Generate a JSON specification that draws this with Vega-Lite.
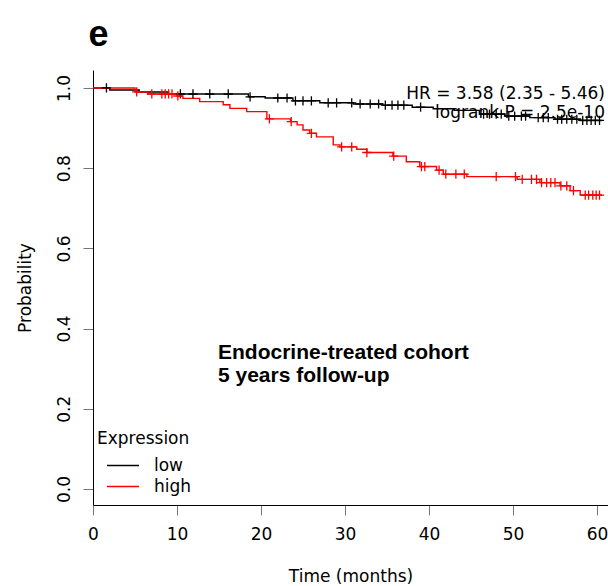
{
  "$schema": "https://vega.github.io/schema/vega-lite/v6.json",
  "autosize": {"type": "none"},
  "width": 515,
  "height": 435,
  "padding": {"left": 93, "top": 70, "right": 0, "bottom": 81},
  "background": "white",
  "config": {"view": {"stroke": null}, "font": "DejaVu Sans"},
  "datasets": {
    "curve": [
      {"group": "low", "t": 0, "p": 1.0},
      {"group": "low", "t": 2.0, "p": 0.995},
      {"group": "low", "t": 5.5, "p": 0.99},
      {"group": "low", "t": 9.0, "p": 0.985},
      {"group": "low", "t": 18.5, "p": 0.978},
      {"group": "low", "t": 20.5, "p": 0.975},
      {"group": "low", "t": 23.8, "p": 0.968},
      {"group": "low", "t": 27.0, "p": 0.963},
      {"group": "low", "t": 31.0, "p": 0.96},
      {"group": "low", "t": 34.5, "p": 0.957},
      {"group": "low", "t": 38.0, "p": 0.952},
      {"group": "low", "t": 40.5, "p": 0.948},
      {"group": "low", "t": 43.0, "p": 0.944},
      {"group": "low", "t": 46.0, "p": 0.935},
      {"group": "low", "t": 49.0, "p": 0.93},
      {"group": "low", "t": 52.0, "p": 0.926},
      {"group": "low", "t": 55.0, "p": 0.922},
      {"group": "low", "t": 58.0, "p": 0.919},
      {"group": "low", "t": 60.6, "p": 0.919},
      {"group": "high", "t": 0, "p": 1.0},
      {"group": "high", "t": 5.0, "p": 0.99},
      {"group": "high", "t": 6.5, "p": 0.985},
      {"group": "high", "t": 10.0, "p": 0.98},
      {"group": "high", "t": 10.7, "p": 0.974},
      {"group": "high", "t": 12.7, "p": 0.966},
      {"group": "high", "t": 15.5, "p": 0.958},
      {"group": "high", "t": 16.3, "p": 0.949},
      {"group": "high", "t": 18.3, "p": 0.941},
      {"group": "high", "t": 20.7, "p": 0.923},
      {"group": "high", "t": 23.5, "p": 0.916},
      {"group": "high", "t": 24.3, "p": 0.908},
      {"group": "high", "t": 25.0, "p": 0.895},
      {"group": "high", "t": 25.8, "p": 0.887},
      {"group": "high", "t": 26.6, "p": 0.878},
      {"group": "high", "t": 28.6, "p": 0.858},
      {"group": "high", "t": 29.4, "p": 0.853},
      {"group": "high", "t": 31.4, "p": 0.847},
      {"group": "high", "t": 32.6, "p": 0.839},
      {"group": "high", "t": 35.7, "p": 0.83},
      {"group": "high", "t": 37.3, "p": 0.816},
      {"group": "high", "t": 38.9, "p": 0.804},
      {"group": "high", "t": 40.9, "p": 0.795},
      {"group": "high", "t": 41.7, "p": 0.785},
      {"group": "high", "t": 44.5, "p": 0.779},
      {"group": "high", "t": 50.5, "p": 0.772},
      {"group": "high", "t": 53.2, "p": 0.764},
      {"group": "high", "t": 55.6, "p": 0.756},
      {"group": "high", "t": 56.8, "p": 0.744},
      {"group": "high", "t": 58.0, "p": 0.733},
      {"group": "high", "t": 60.6, "p": 0.733}
    ],
    "censor": [
      {"group": "low", "t": 1.6, "p": 1.0},
      {"group": "low", "t": 10.4, "p": 0.985},
      {"group": "low", "t": 11.9, "p": 0.985},
      {"group": "low", "t": 13.9, "p": 0.985},
      {"group": "low", "t": 16.1, "p": 0.985},
      {"group": "low", "t": 18.7, "p": 0.978},
      {"group": "low", "t": 22.0, "p": 0.975},
      {"group": "low", "t": 23.1, "p": 0.975},
      {"group": "low", "t": 24.1, "p": 0.968},
      {"group": "low", "t": 25.0, "p": 0.968},
      {"group": "low", "t": 26.0, "p": 0.968},
      {"group": "low", "t": 28.0, "p": 0.963},
      {"group": "low", "t": 29.0, "p": 0.963},
      {"group": "low", "t": 30.8, "p": 0.963},
      {"group": "low", "t": 31.8, "p": 0.96},
      {"group": "low", "t": 33.0, "p": 0.96},
      {"group": "low", "t": 34.0, "p": 0.96},
      {"group": "low", "t": 34.8, "p": 0.957},
      {"group": "low", "t": 35.6, "p": 0.957},
      {"group": "low", "t": 36.3, "p": 0.957},
      {"group": "low", "t": 37.0, "p": 0.957},
      {"group": "low", "t": 39.0, "p": 0.952},
      {"group": "low", "t": 46.5, "p": 0.935},
      {"group": "low", "t": 47.2, "p": 0.935},
      {"group": "low", "t": 48.0, "p": 0.935},
      {"group": "low", "t": 48.6, "p": 0.935},
      {"group": "low", "t": 49.5, "p": 0.93},
      {"group": "low", "t": 50.2, "p": 0.93},
      {"group": "low", "t": 51.0, "p": 0.93},
      {"group": "low", "t": 51.5, "p": 0.93},
      {"group": "low", "t": 53.0, "p": 0.926},
      {"group": "low", "t": 53.6, "p": 0.926},
      {"group": "low", "t": 54.2, "p": 0.926},
      {"group": "low", "t": 55.3, "p": 0.922},
      {"group": "low", "t": 55.8, "p": 0.922},
      {"group": "low", "t": 56.4, "p": 0.922},
      {"group": "low", "t": 57.0, "p": 0.922},
      {"group": "low", "t": 57.6, "p": 0.922},
      {"group": "low", "t": 58.3, "p": 0.919},
      {"group": "low", "t": 58.8, "p": 0.919},
      {"group": "low", "t": 59.3, "p": 0.919},
      {"group": "low", "t": 59.8, "p": 0.919},
      {"group": "low", "t": 60.3, "p": 0.919},
      {"group": "high", "t": 5.2, "p": 0.99},
      {"group": "high", "t": 7.0, "p": 0.985},
      {"group": "high", "t": 8.2, "p": 0.985},
      {"group": "high", "t": 8.6, "p": 0.985},
      {"group": "high", "t": 9.0, "p": 0.985},
      {"group": "high", "t": 9.4, "p": 0.985},
      {"group": "high", "t": 10.1, "p": 0.98},
      {"group": "high", "t": 21.0, "p": 0.923},
      {"group": "high", "t": 23.6, "p": 0.916},
      {"group": "high", "t": 26.0, "p": 0.887},
      {"group": "high", "t": 29.6, "p": 0.853},
      {"group": "high", "t": 30.8, "p": 0.853},
      {"group": "high", "t": 32.6, "p": 0.839},
      {"group": "high", "t": 35.8, "p": 0.83},
      {"group": "high", "t": 39.1, "p": 0.804},
      {"group": "high", "t": 39.5, "p": 0.804},
      {"group": "high", "t": 41.2, "p": 0.795},
      {"group": "high", "t": 42.0, "p": 0.785},
      {"group": "high", "t": 43.2, "p": 0.785},
      {"group": "high", "t": 44.2, "p": 0.785},
      {"group": "high", "t": 48.0, "p": 0.779},
      {"group": "high", "t": 50.3, "p": 0.779},
      {"group": "high", "t": 51.1, "p": 0.772},
      {"group": "high", "t": 52.2, "p": 0.772},
      {"group": "high", "t": 52.8, "p": 0.772},
      {"group": "high", "t": 53.4, "p": 0.764},
      {"group": "high", "t": 54.0, "p": 0.764},
      {"group": "high", "t": 54.5, "p": 0.764},
      {"group": "high", "t": 55.0, "p": 0.764},
      {"group": "high", "t": 55.7, "p": 0.756},
      {"group": "high", "t": 56.4, "p": 0.756},
      {"group": "high", "t": 57.2, "p": 0.744},
      {"group": "high", "t": 58.6, "p": 0.733},
      {"group": "high", "t": 59.0, "p": 0.733},
      {"group": "high", "t": 59.5, "p": 0.733},
      {"group": "high", "t": 59.9, "p": 0.733},
      {"group": "high", "t": 60.3, "p": 0.733}
    ],
    "stats": [
      {"label": "HR = 3.58 (2.35 - 5.46)", "t": 60.95, "p": 0.9737},
      {"label": "logrank P = 2.5e-10", "t": 60.95, "p": 0.9244}
    ],
    "cohort": [
      {"label": "Endocrine-treated cohort", "t": 14.88, "p": 0.324},
      {"label": "5 years follow-up", "t": 14.88, "p": 0.2667}
    ],
    "panel": [
      {"label": "e", "t": -0.55, "p": 1.1046}
    ]
  },
  "layer": [
    {
      "data": {"name": "curve"},
      "mark": {"type": "line", "interpolate": "step-after", "strokeWidth": 1.4},
      "encoding": {
        "x": {
          "field": "t", "type": "quantitative",
          "scale": {"domain": [0, 61.31], "nice": false, "zero": false},
          "axis": {
            "title": "Time (months)", "values": [0, 10, 20, 30, 40, 50, 60], "format": "d",
            "grid": false, "tickSize": 10, "tickColor": "#777", "domainColor": "#000",
            "labelFontSize": 17, "labelColor": "#000", "labelPadding": 11, "labelFlush": false, "labelBound": false,
            "titleFontSize": 17, "titleFontWeight": "normal", "titleColor": "#000", "titlePadding": 26
          }
        },
        "y": {
          "field": "p", "type": "quantitative",
          "scale": {"domain": [-0.04, 1.0448], "nice": false, "zero": false},
          "axis": {
            "title": "Probability", "values": [0, 0.2, 0.4, 0.6, 0.8, 1.0], "format": ".1f",
            "grid": false, "tickSize": 10, "tickColor": "#777", "domainColor": "#000",
            "labelFontSize": 17, "labelColor": "#000", "labelAngle": -90, "labelAlign": "center", "labelBaseline": "bottom", "labelPadding": 10,
            "titleFontSize": 17, "titleFontWeight": "normal", "titleColor": "#000", "titlePadding": 21
          }
        },
        "color": {
          "field": "group", "type": "nominal",
          "scale": {"domain": ["low", "high"], "range": ["#000000", "#ff0000"]},
          "legend": {
            "title": "Expression", "orient": "none", "legendX": 4, "legendY": 361,
            "titleFontSize": 17, "titleFontWeight": "normal", "titleColor": "#000", "titlePadding": 9,
            "labelFontSize": 17, "labelColor": "#000", "labelOffset": 14,
            "symbolType": "stroke", "symbolSize": 1024, "symbolStrokeWidth": 1.5, "symbolOpacity": 0.6, "symbolOffset": 9,
            "clipHeight": 17, "rowPadding": 3, "padding": 0
          }
        }
      }
    },
    {
      "data": {"name": "censor"},
      "mark": {"type": "point", "shape": "M-1,0L1,0M0,-1L0,1", "filled": false, "size": 85, "strokeWidth": 1.3, "opacity": 1},
      "encoding": {
        "x": {"field": "t", "type": "quantitative"},
        "y": {"field": "p", "type": "quantitative"},
        "color": {"field": "group", "type": "nominal"}
      }
    },
    {
      "mark": {"type": "rule", "color": "#999", "strokeWidth": 1},
      "encoding": {"y": {"datum": 1.0448}}
    },
    {
      "data": {"name": "stats"},
      "mark": {"type": "text", "align": "right", "baseline": "alphabetic", "fontSize": 17, "font": "DejaVu Sans", "color": "#000"},
      "encoding": {
        "x": {"field": "t", "type": "quantitative"},
        "y": {"field": "p", "type": "quantitative"},
        "text": {"field": "label"}
      }
    },
    {
      "data": {"name": "cohort"},
      "mark": {"type": "text", "align": "left", "baseline": "alphabetic", "fontSize": 21, "font": "Liberation Sans", "fontWeight": "bold", "color": "#000"},
      "encoding": {
        "x": {"field": "t", "type": "quantitative"},
        "y": {"field": "p", "type": "quantitative"},
        "text": {"field": "label"}
      }
    },
    {
      "data": {"name": "panel"},
      "mark": {"type": "text", "align": "left", "baseline": "alphabetic", "fontSize": 36, "font": "Liberation Sans", "fontWeight": "bold", "color": "#000"},
      "encoding": {
        "x": {"field": "t", "type": "quantitative"},
        "y": {"field": "p", "type": "quantitative"},
        "text": {"field": "label"}
      }
    }
  ]
}
